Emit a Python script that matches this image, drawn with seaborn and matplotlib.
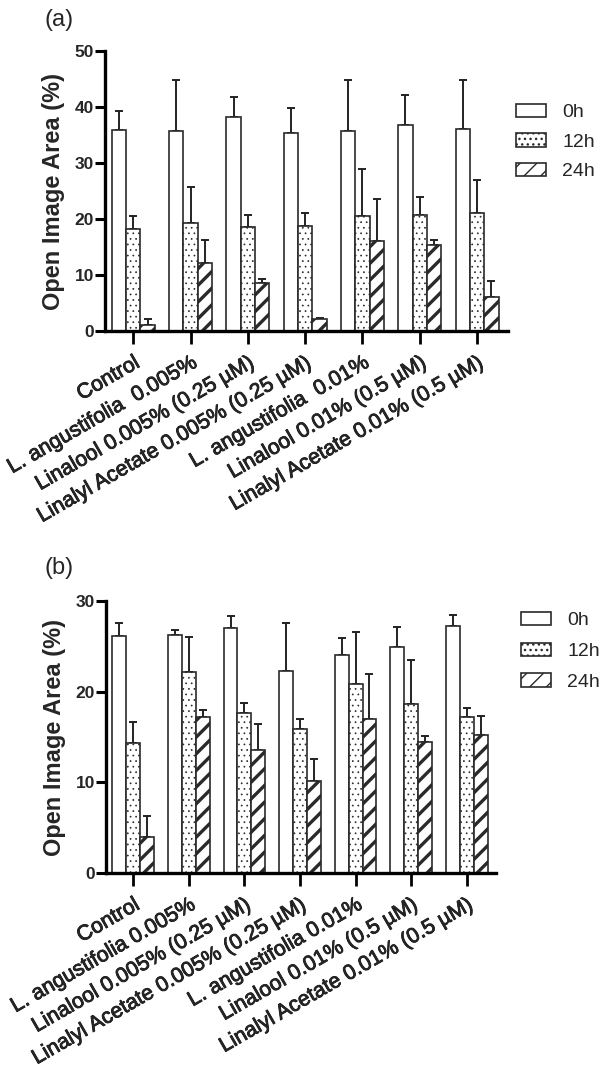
import numpy as np
import pandas as pd
import matplotlib
matplotlib.use("Agg")
import matplotlib.pyplot as plt
import matplotlib.patches as mpatches
import matplotlib.patheffects as pe
import seaborn as sns

sns.set_theme(style="white")
plt.rcParams["font.family"] = ["Liberation Sans", "DejaVu Sans"]

categories = ["Control", "L. angustifolia 0.005%", "Linalool 0.005% (0.25 µM)",
              "Linalyl Acetate 0.005% (0.25 µM)", "L. angustifolia 0.01%",
              "Linalool 0.01% (0.5 µM)", "Linalyl Acetate 0.01% (0.5 µM)"]
labels_a = ["Control", "L. angustifolia  0.005%", "Linalool 0.005% (0.25 µM)",
            "Linalyl Acetate 0.005% (0.25 µM)", "L. angustifolia  0.01%",
            "Linalool 0.01% (0.5 µM)", "Linalyl Acetate 0.01% (0.5 µM)"]
labels_b = categories
times = ["0h", "12h", "24h"]

# Panel (a)
a_0h = [35.9, 35.8, 38.3, 35.3, 35.8, 36.7, 36.1]
a_0h_err = [3.4, 9.1, 3.4, 4.6, 9.0, 5.4, 8.7]
a_12h = [18.3, 19.2, 18.6, 18.8, 20.6, 20.8, 21.0]
a_12h_err = [2.3, 6.6, 2.2, 2.2, 8.3, 3.2, 6.0]
a_24h = [1.1, 12.2, 8.6, 2.1, 16.0, 15.3, 6.0]
a_24h_err = [1.0, 4.1, 0.6, 0.2, 7.6, 1.0, 3.0]

# Panel (b)
b_0h = [26.1, 26.2, 27.0, 22.3, 24.0, 24.9, 27.2]
b_0h_err = [1.5, 0.6, 1.3, 5.3, 1.9, 2.2, 1.3]
b_12h = [14.3, 22.2, 17.6, 15.9, 20.8, 18.6, 17.2]
b_12h_err = [2.3, 3.8, 1.2, 1.1, 5.8, 4.9, 1.0]
b_24h = [4.0, 17.2, 13.6, 10.1, 17.0, 14.4, 15.2]
b_24h_err = [2.3, 0.8, 2.8, 2.5, 4.9, 0.7, 2.1]

EDGE = "#2a2a2a"
HATCHES = ["", "...", "//"]
HATCH_LW = [1.0, 0.5, 2.4]


def draw(ax, means, errs, ymax, yticks, labels, xlim):
    rows = []
    for t, m in zip(times, means):
        for c, v in zip(categories, m):
            rows.append({"group": c, "time": t, "value": v})
    df = pd.DataFrame(rows)
    sns.barplot(data=df, x="group", y="value", hue="time", order=categories,
                hue_order=times, palette=["white"] * 3, saturation=1,
                edgecolor=EDGE, linewidth=1.2, width=0.75, gap=0,
                errorbar=None, legend=False, ax=ax, zorder=2)
    for cont, h, hlw, e in zip(ax.containers, HATCHES, HATCH_LW, errs):
        xs, ys = [], []
        for p in cont:
            p.set_hatch(h)
            if hasattr(p, "set_hatch_linewidth"):
                p.set_hatch_linewidth(hlw)
            xs.append(p.get_x() + p.get_width() / 2)
            ys.append(p.get_height())
        ax.errorbar(xs, ys, yerr=[np.zeros(len(e)), e], fmt="none",
                    ecolor="#222222", elinewidth=1.4, capsize=3, capthick=1.4,
                    zorder=1)
    ax.set_ylim(0, ymax)
    ax.set_xlim(*xlim)
    ax.set_yticks(yticks)
    ax.set_xlabel("")
    ax.set_ylabel("Open Image Area (%)", fontsize=17, fontweight="bold", labelpad=7)
    ax.set_xticks(range(len(categories)))
    ax.set_xticklabels(labels, rotation=30, ha="right", va="top",
                       rotation_mode="anchor", fontsize=15.3)
    for lab in ax.get_xticklabels():
        lab.set_path_effects([pe.withStroke(linewidth=0.6, foreground="#111111")])
    for lab in ax.get_yticklabels():
        lab.set_fontweight("bold")
        lab.set_fontsize(12.5)
    for s in ["top", "right"]:
        ax.spines[s].set_visible(False)
    for s in ["left", "bottom"]:
        ax.spines[s].set_linewidth(2.4)
        ax.spines[s].set_color("black")
    ax.tick_params(axis="y", direction="out", length=7, width=2.2, pad=1,
                   left=True, color="black")
    ax.tick_params(axis="x", direction="out", length=9, width=2.0, pad=7,
                   bottom=True, color="black")
    ax.set_facecolor("white")


def legend(fig, x, y, spacing):
    handles = []
    for h, hlw in zip(HATCHES, HATCH_LW):
        p = mpatches.Patch(facecolor="white", edgecolor=EDGE, hatch=h, linewidth=1.2)
        if hasattr(p, "set_hatch_linewidth"):
            p.set_hatch_linewidth(hlw)
        handles.append(p)
    fig.legend(handles, times, loc="upper left", bbox_to_anchor=(x, y),
               frameon=False, fontsize=14, handlelength=1.55, handleheight=0.67,
               handletextpad=0.82, labelspacing=spacing, borderpad=0,
               borderaxespad=0)


W, H = 604, 1068
fig = plt.figure(figsize=(W / 100, H / 100), dpi=100)
fig.patch.set_facecolor("white")

ax_a = fig.add_axes([105 / W, 1 - 331 / H, (508 - 105) / W, 280 / H])
draw(ax_a, [a_0h, a_12h, a_24h], [a_0h_err, a_12h_err, a_24h_err], 50,
     [0, 10, 20, 30, 40, 50], labels_a, (-0.494, 6.54))

ax_b = fig.add_axes([106 / W, 1 - 873 / H, (496 - 106) / W, 272 / H])
draw(ax_b, [b_0h, b_12h, b_24h], [b_0h_err, b_12h_err, b_24h_err], 30,
     [0, 10, 20, 30], labels_b, (-0.491, 6.527))

legend(fig, 516 / W, 1 - 104 / H, 0.62)
legend(fig, 521 / W, 1 - 612 / H, 0.68)

fig.text(44 / W, 1 - 20 / H, "(a)", fontsize=17, ha="left", va="center")
fig.text(44 / W, 1 - 568 / H, "(b)", fontsize=17, ha="left", va="center")

fig.savefig("out.png", dpi=100, facecolor="white")
